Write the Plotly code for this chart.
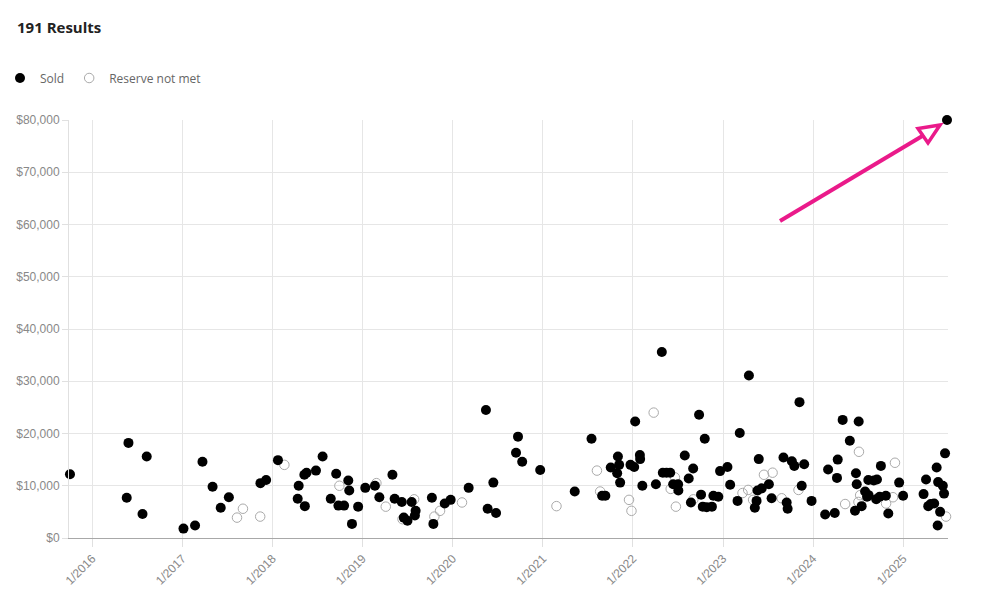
import plotly.graph_objects as go

sold_dates = [
    "2015-10-03", "2016-05-27", "2016-08-09", "2016-05-20", "2016-07-23",
    "2017-01-05", "2017-02-21", "2017-03-23", "2017-05-03", "2017-07-08", "2017-06-05",
    "2017-11-13", "2017-12-06", "2018-01-23", "2018-04-17", "2018-04-13", "2018-05-12",
    "2018-05-10", "2018-05-19", "2018-06-26", "2018-07-23", "2018-08-25", "2018-09-16",
    "2018-09-25", "2018-10-18", "2018-11-04", "2018-11-08", "2018-11-19", "2018-12-14",
    "2019-01-12", "2019-02-20", "2019-03-10", "2019-05-02", "2019-05-11", "2019-06-09",
    "2019-06-17", "2019-07-02", "2019-07-19", "2019-08-04", "2019-08-01", "2019-10-09",
    "2019-10-15", "2019-11-30", "2019-12-24", "2020-03-06", "2020-05-15", "2020-06-14",
    "2020-05-22", "2020-06-25", "2020-09-22", "2020-09-14", "2020-10-09", "2020-12-21",
    "2021-05-10", "2021-07-17", "2021-08-29", "2021-09-11", "2021-10-03", "2021-11-01",
    "2021-11-06", "2021-10-29", "2021-11-10", "2021-12-22", "2022-01-06", "2022-01-10",
    "2022-01-29", "2022-01-30", "2022-02-08", "2022-04-28", "2022-04-04", "2022-05-02",
    "2022-05-17", "2022-06-01", "2022-06-13", "2022-07-03", "2022-07-04", "2022-07-30",
    "2022-09-02", "2022-08-15", "2022-09-26", "2022-10-19", "2022-10-04", "2022-08-24",
    "2022-10-11", "2022-10-27", "2022-11-17", "2022-11-23", "2022-12-13", "2022-12-20",
    "2023-01-19", "2023-01-30", "2023-03-01", "2023-04-16", "2023-03-10", "2023-05-17",
    "2023-05-10", "2023-05-26", "2023-05-21", "2023-06-07", "2023-07-06", "2023-07-17",
    "2023-09-03", "2023-10-07", "2023-10-17", "2023-11-26", "2023-09-16", "2023-09-20",
    "2023-11-16", "2023-11-07", "2023-12-26", "2024-02-19", "2024-03-29", "2024-03-02",
    "2024-04-10", "2024-04-07", "2024-04-30", "2024-07-04", "2024-05-29", "2024-06-23",
    "2024-06-26", "2024-06-19", "2024-07-16", "2024-07-30", "2024-08-13", "2024-08-07",
    "2024-08-12", "2024-09-03", "2024-09-16", "2024-09-13", "2024-10-02", "2024-09-27",
    "2024-10-22", "2024-11-01", "2024-12-15", "2024-12-31", "2025-03-24", "2025-04-03",
    "2025-04-12", "2025-04-22", "2025-05-06", "2025-05-16", "2025-05-22", "2025-06-10",
    "2025-06-15", "2025-05-30", "2025-05-20", "2025-06-19", "2025-06-27",
]
sold_prices = [
    12200, 18200, 15600, 7700, 4600,
    1800, 2400, 14600, 9800, 7800, 5800,
    10500, 11100, 14900, 10000, 7500, 6100,
    12100, 12500, 12900, 15600, 7500, 12300,
    6200, 6200, 11000, 9100, 2700, 6000,
    9600, 10000, 7800, 12100, 7500, 6900,
    3900, 3300, 6900, 5200, 4300, 7700,
    2700, 6600, 7300, 9600, 24500, 10600,
    5600, 4800, 19400, 16300, 14600, 13000,
    8900, 19000, 8100, 8100, 13500, 15600,
    14000, 12400, 10600, 14000, 13600, 22300,
    15900, 15100, 10000, 35600, 10300, 12500,
    12500, 12500, 10300, 10300, 9100, 15800,
    13300, 11400, 23600, 19000, 8300, 6800,
    6000, 5900, 6000, 8100, 7900, 12800,
    13600, 10200, 7100, 31100, 20100, 7100,
    5800, 15100, 9100, 9500, 10300, 7600,
    15400, 14700, 13800, 14100, 6800, 5600,
    10000, 26000, 7100, 4500, 4800, 13100,
    15000, 11500, 22600, 22300, 18600, 12400,
    10300, 5200, 6100, 8900, 8200, 7900,
    11100, 11000, 11200, 7400, 13800, 7900,
    8100, 4700, 10600, 8100, 8400, 11200,
    6100, 6500, 6600, 13500, 10700, 10000,
    8500, 5000, 2400, 16200, 80000,
]

rnm_dates = [
    "2017-08-10", "2017-09-03", "2017-11-12", "2018-02-18", "2018-09-29", "2019-02-26",
    "2019-04-05", "2019-06-12", "2019-07-29", "2019-10-19", "2019-11-11", "2020-02-08",
    "2021-02-25", "2021-08-08", "2021-08-21", "2021-12-16", "2021-12-26", "2022-03-26",
    "2022-06-20", "2022-06-03", "2022-06-24", "2022-09-03", "2023-03-21", "2023-04-13",
    "2023-05-03", "2023-06-16", "2023-07-21", "2023-08-27", "2023-11-03", "2024-07-05",
    "2024-05-10", "2024-07-03", "2024-07-10", "2024-10-23", "2024-11-20", "2024-11-28",
    "2025-06-23",
]
rnm_prices = [
    3900, 5600, 4100, 14000, 10000, 10500,
    6000, 3600, 7400, 4100, 5200, 6800,
    6100, 12900, 8900, 7300, 5200, 24000,
    11600, 9400, 6000, 7400, 8600, 9200,
    7300, 12100, 12500, 7600, 9200, 16500,
    6500, 6900, 8200, 6600, 7800, 14400,
    4100,
]

tick_dates = ["2016-01-01", "2017-01-01", "2018-01-01", "2019-01-01", "2020-01-01",
              "2021-01-01", "2022-01-01", "2023-01-01", "2024-01-01", "2025-01-01"]
tick_labels = ["1/2016", "1/2017", "1/2018", "1/2019", "1/2020",
               "1/2021", "1/2022", "1/2023", "1/2024", "1/2025"]
y_ticks = [0, 10000, 20000, 30000, 40000, 50000, 60000, 70000, 80000]
y_labels = ["$0", "$10,000", "$20,000", "$30,000", "$40,000",
            "$50,000", "$60,000", "$70,000", "$80,000"]

W, H = 987, 595
L, R, T, B = 69, 39, 120, 57
pw, ph = W - L - R, H - T - B

def px(xp):
    return (xp - L) / pw

def py(yp):
    return (H - B - yp) / ph

fig = go.Figure()
fig.add_trace(go.Scatter(
    x=rnm_dates, y=rnm_prices, mode="markers", name="Reserve not met",
    legendrank=2, cliponaxis=False,
    marker=dict(symbol="circle-open", size=9.5, color="#aaaaaa", line=dict(width=1)),
))
fig.add_trace(go.Scatter(
    x=sold_dates, y=sold_prices, mode="markers", name="Sold",
    legendrank=1, cliponaxis=False,
    marker=dict(symbol="circle", size=10, color="#000000", line=dict(width=0)),
))

pink = "#ea1a8a"
fig.add_shape(type="line", xref="paper", yref="paper",
              x0=px(780), y0=py(221), x1=px(924), y1=py(135),
              line=dict(color=pink, width=4))
fig.add_shape(type="path", xref="paper", yref="paper",
              path=f"M {px(940)} {py(125)} L {px(918)} {py(128.5)} L {px(928)} {py(143)} Z",
              line=dict(color=pink, width=3.5), fillcolor="rgba(0,0,0,0)")

fig.update_layout(
    width=W, height=H, autosize=False,
    margin=dict(l=L, r=R, t=T, b=B, autoexpand=False),
    paper_bgcolor="white", plot_bgcolor="white",
    font=dict(family="Liberation Sans, Arial, sans-serif", color="#888888", size=12),
    title=dict(text="<b>191 Results</b>", xref="container", yref="container",
               x=17 / W, xanchor="left", y=1 - 28 / H, yanchor="middle",
               font=dict(family="Open Sans, sans-serif", size=15, color="#222222")),
    showlegend=True,
    legend=dict(orientation="h", xref="container", yref="container",
                x=0, xanchor="left", y=1 - 78 / H, yanchor="middle",
                font=dict(family="Open Sans, sans-serif", size=12, color="#666666"),
                itemwidth=30, bgcolor="rgba(0,0,0,0)"),
    xaxis=dict(type="date", range=["2015-09-29", "2025-07-01"], automargin=False,
               tickvals=tick_dates, ticktext=tick_labels, tickangle=-45,
               showgrid=True, gridcolor="#e6e6e6", gridwidth=1,
               ticks="outside", ticklen=8, tickcolor="#e0e0e0",
               showline=True, linecolor="#a8a8a8", linewidth=1,
               zeroline=False, tickfont=dict(size=12, color="#888888")),
    yaxis=dict(range=[0, 80000], automargin=False,
               tickvals=y_ticks, ticktext=y_labels,
               showgrid=True, gridcolor="#e6e6e6", gridwidth=1,
               ticks="outside", ticklen=6, tickcolor="#e0e0e0",
               showline=True, linecolor="#e0e0e0", linewidth=1,
               zeroline=False, tickfont=dict(size=12, color="#888888")),
)

fig.write_html("out.html", config={"displayModeBar": False},
               post_script="document.body.style.margin='0';")
